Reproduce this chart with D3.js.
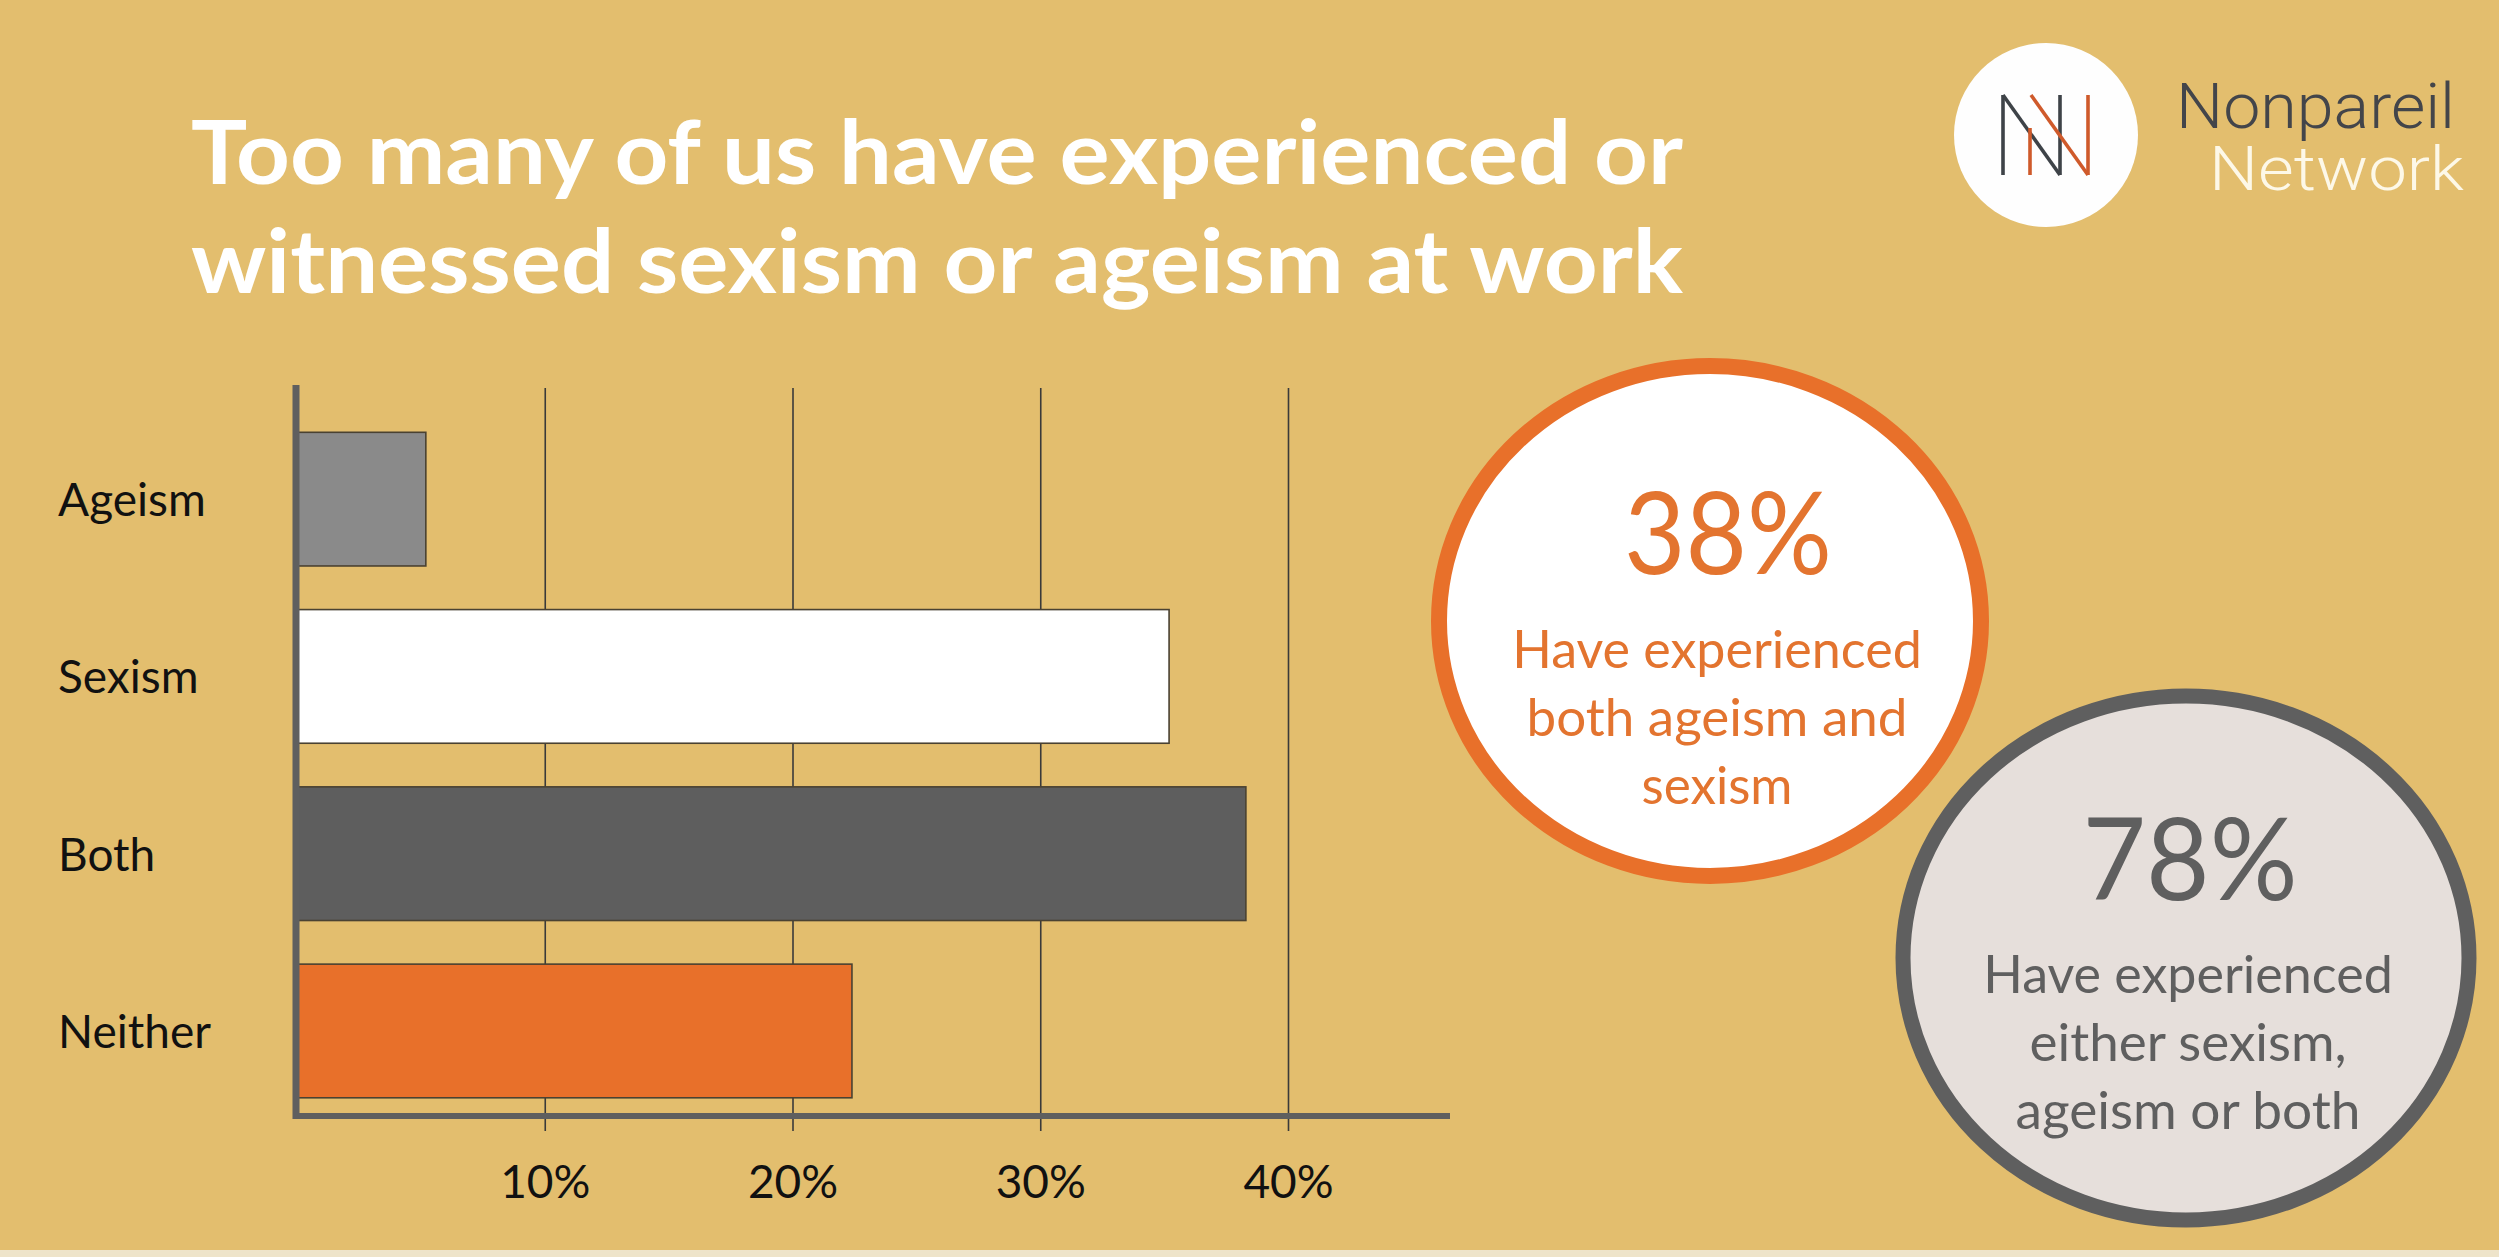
<!DOCTYPE html>
<html><head><meta charset="utf-8">
<script src="https://cdn.jsdelivr.net/npm/d3@7"></script>
<style>html,body{margin:0;padding:0;background:#e3be6e;} svg{display:block}</style>
</head><body>
<svg id="c" width="2499" height="1257"></svg>
<script>
// ---- data ----
const categories = ["Ageism", "Sexism", "Both", "Neither"];
const values = [5.2, 35.2, 38.3, 22.4];
const barColors = ["#8a8a8a", "#ffffff", "#5e5e5e", "#e8702a"];
const tickValues = [10, 20, 30, 40];
const tickLabels = ["10%", "20%", "30%", "40%"];
const titleLines = ["Too many of us have experienced or", "witnessed sexism or ageism at work"];
const statValues = ["38%", "78%"];
const statLines = [["Have experienced", "both ageism and", "sexism"],
                   ["Have experienced", "either sexism,", "ageism or both"]];
const logoWords = ["Nonpareil", "Network"];

// ---- drawing ----
const svg = d3.select("#c");
const FONT = "Lato, 'Open Sans', sans-serif";

function fit(sel, w) {
  sel.each(function () {
    const L = this.getComputedTextLength();
    if (L > 0 && Math.abs(L - w) / w > 0.015) {
      d3.select(this).attr("textLength", w).attr("lengthAdjust", "spacingAndGlyphs");
    }
  });
}

svg.append("rect").attr("width", 2499).attr("height", 1257).attr("fill", "#e3be6e");
svg.append("rect").attr("y", 1250).attr("width", 2499).attr("height", 7).attr("fill", "#eee4ca");

// title
const titleX = 191, titleBase = [184, 293], titleW = 1492;
titleLines.forEach((t, i) => {
  svg.append("text").attr("x", titleX).attr("y", titleBase[i])
    .attr("font-family", FONT).attr("font-weight", 700).attr("font-size", 88)
    .attr("fill", "#ffffff").text(t).call(fit, titleW);
});

// logo
const logo = svg.append("g");
logo.append("circle").attr("cx", 2046).attr("cy", 135).attr("r", 92).attr("fill", "#fefefe");
const dark = "#3e4348", org = "#cf5a2b";
const lw = 3.6;
[[2003, 95, 2003, 175], [2003, 95, 2060, 175], [2060, 95, 2060, 175]].forEach(p =>
  logo.append("line").attr("x1", p[0]).attr("y1", p[1]).attr("x2", p[2]).attr("y2", p[3])
    .attr("stroke", dark).attr("stroke-width", lw));
[[2030, 128, 2030, 175], [2031, 95, 2088, 175], [2088, 95, 2088, 175]].forEach(p =>
  logo.append("line").attr("x1", p[0]).attr("y1", p[1]).attr("x2", p[2]).attr("y2", p[3])
    .attr("stroke", org).attr("stroke-width", lw));
const logoFont = "Roboto, Lato, sans-serif";
logo.append("text").attr("x", 2176).attr("y", 128).attr("font-family", logoFont)
  .attr("font-weight", 300).attr("font-size", 63).attr("fill", "#43454a")
  .text(logoWords[0]).call(fit, 279);
logo.append("text").attr("x", 2209).attr("y", 190).attr("font-family", logoFont)
  .attr("font-weight", 300).attr("font-size", 61).attr("fill", "#fdf8e8")
  .text(logoWords[1]).call(fit, 255);

// scales
const x = d3.scaleLinear().domain([0, 40]).range([297, 1288]);
const y = d3.scaleBand().domain(categories).range([410.5, 1119.6])
  .paddingInner(0.246).paddingOuter(0.123);

// gridlines + tick labels via axis
const gridTop = 388, gridBottom = 1131;
const ax = svg.append("g").attr("transform", `translate(0,${gridBottom})`)
  .call(d3.axisBottom(x).tickValues(tickValues)
    .tickFormat((d, i) => tickLabels[i])
    .tickSizeInner(-(gridBottom - gridTop)).tickSizeOuter(0).tickPadding(34));
ax.select(".domain").remove();
ax.selectAll(".tick line").attr("stroke", "#3a3a3a").attr("stroke-width", 1.6);
ax.selectAll(".tick text").attr("font-family", FONT).attr("font-size", 46)
  .attr("fill", "#111111");

// bars
svg.append("g").selectAll("rect").data(categories).join("rect")
  .attr("x", x(0)).attr("y", d => y(d))
  .attr("width", (d, i) => x(values[i]) - x(0))
  .attr("height", y.bandwidth())
  .attr("fill", (d, i) => barColors[i])
  .attr("stroke", "#4a4232").attr("stroke-width", 1.6);

// axis lines
svg.append("line").attr("x1", 296).attr("x2", 296).attr("y1", 385).attr("y2", 1119)
  .attr("stroke", "#5f5f5f").attr("stroke-width", 7);
svg.append("line").attr("x1", 293).attr("x2", 1450).attr("y1", 1116).attr("y2", 1116)
  .attr("stroke", "#5f5f5f").attr("stroke-width", 6);

// category labels
svg.append("g").selectAll("text").data(categories).join("text")
  .attr("x", 58).attr("y", d => y(d) + y.bandwidth() / 2 + 17)
  .attr("font-family", FONT).attr("font-size", 46).attr("fill", "#111111")
  .text(d => d);

// stat bubbles
const bubbles = [
  { cx: 1710, cy: 621, rx: 271, ry: 255, fill: "#ffffff", stroke: "#e8702a", sw: 16,
    color: "#e3742f", numX: 1728, numY: 574, numW: 208, lineX: 1717,
    lineY: [668, 736, 804], lineW: [409, 381, 151] },
  { cx: 2186, cy: 958, rx: 283, ry: 262, fill: "#e6dfdb", stroke: "#5f5f5f", sw: 15,
    color: "#5f5f5f", numX: 2190, numY: 900, numW: 215, lineX: 2188,
    lineY: [993, 1061, 1129], lineW: [407, 317, 345] }
];
bubbles.forEach((b, i) => {
  const g = svg.append("g");
  g.append("ellipse").attr("cx", b.cx).attr("cy", b.cy).attr("rx", b.rx).attr("ry", b.ry)
    .attr("fill", b.fill).attr("stroke", b.stroke).attr("stroke-width", b.sw);
  g.append("text").attr("x", b.numX).attr("y", b.numY).attr("text-anchor", "middle")
    .attr("font-family", FONT).attr("font-size", 114).attr("fill", b.color)
    .text(statValues[i]).call(fit, b.numW);
  statLines[i].forEach((t, j) => {
    g.append("text").attr("x", b.lineX).attr("y", b.lineY[j]).attr("text-anchor", "middle")
      .attr("font-family", FONT).attr("font-size", 52).attr("fill", b.color)
      .text(t).call(fit, b.lineW[j]);
  });
});
</script>
</body></html>
